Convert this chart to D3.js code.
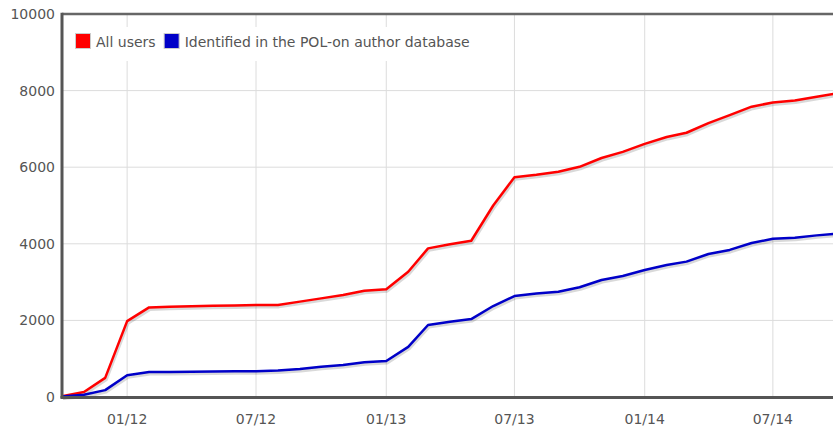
<!DOCTYPE html>
<html>
<head>
<meta charset="utf-8">
<script src="https://cdn.jsdelivr.net/npm/d3@7"></script>
<style>
  body { margin: 0; background: #fff; }
  svg { display: block; font-family: "DejaVu Sans", Tahoma, sans-serif; }
</style>
</head>
<body>
<div id="chart"></div>
<script>
// monthly snapshots, Oct 2011 .. Oct 2014
const months = [
  '2011-10', '2011-11', '2011-12',
  '2012-01', '2012-02', '2012-03', '2012-04', '2012-05', '2012-06',
  '2012-07', '2012-08', '2012-09', '2012-10', '2012-11', '2012-12',
  '2013-01', '2013-02', '2013-03', '2013-04', '2013-05', '2013-06',
  '2013-07', '2013-08', '2013-09', '2013-10', '2013-11', '2013-12',
  '2014-01', '2014-02', '2014-03', '2014-04', '2014-05', '2014-06',
  '2014-07', '2014-08', '2014-09', '2014-10'
];
const allUsers = [
  20, 130, 500,
  1980, 2340, 2355, 2370, 2380, 2390,
  2400, 2405, 2490, 2575, 2665, 2775,
  2815, 3270, 3880, 3990, 4080, 5000,
  5740, 5800, 5880, 6010, 6240, 6400,
  6610, 6790, 6900, 7150, 7360, 7580,
  7690, 7740, 7840, 7930
];
const identified = [
  10, 60, 180,
  570, 650, 655, 660, 665, 670,
  675, 690, 730, 790, 835, 905,
  940, 1310, 1880, 1965, 2035, 2375,
  2635, 2700, 2750, 2865, 3055, 3160,
  3315, 3445, 3535, 3735, 3840, 4020,
  4130, 4160, 4220, 4270
];
const seriesNames = ['All users', 'Identified in the POL-on author database'];
const seriesColors = ['#ff0000', '#0000c8'];
const yTicks = [0, 2000, 4000, 6000, 8000, 10000];
const xTicks = ['2012-01', '2012-07', '2013-01', '2013-07', '2014-01', '2014-07'];

const width = 833, height = 429;
const mLeft = 62, mTop = 14, mBottom = 397, mRight = 838;
const parse = d3.timeParse('%Y-%m');

const x = d3.scaleTime()
  .domain([parse('2011-10'), parse('2014-10')])
  .range([mLeft, mRight]);
const y = d3.scaleLinear()
  .domain([0, 10000])
  .range([mBottom, mTop]);

const svg = d3.select('#chart').append('svg')
  .attr('width', width)
  .attr('height', height);

// grid
svg.append('g')
  .selectAll('line')
  .data(yTicks.slice(1, -1))
  .join('line')
  .attr('x1', mLeft).attr('x2', width)
  .attr('y1', d => y(d)).attr('y2', d => y(d))
  .attr('stroke', '#dcdcdc');
svg.append('g')
  .selectAll('line')
  .data(xTicks)
  .join('line')
  .attr('x1', d => x(parse(d))).attr('x2', d => x(parse(d)))
  .attr('y1', mTop).attr('y2', mBottom)
  .attr('stroke', '#dcdcdc');

// legend box (covers the grid)
const legend = svg.append('g');
legend.append('rect')
  .attr('x', 68).attr('y', 27)
  .attr('width', 412).attr('height', 34)
  .attr('fill', '#fff');
let lx = 75;
seriesNames.forEach((name, i) => {
  legend.append('rect')
    .attr('x', lx + 0.5).attr('y', 33.5)
    .attr('width', 15).attr('height', 15)
    .attr('fill', seriesColors[i])
    .attr('stroke', '#ccc');
  const t = legend.append('text')
    .attr('x', lx + 21).attr('y', 47)
    .attr('font-size', 14)
    .attr('fill', '#555')
    .text(name);
  lx += 21 + t.node().getComputedTextLength() + 8;
});

// lines with a soft drop shadow
const line = d3.line()
  .x((d, i) => x(parse(months[i])))
  .y(d => y(d));
[allUsers, identified].forEach((values, i) => {
  svg.append('path')
    .attr('d', line(values))
    .attr('fill', 'none')
    .attr('stroke', 'rgba(0,0,0,0.15)')
    .attr('stroke-width', 3)
    .attr('stroke-linejoin', 'round')
    .attr('transform', 'translate(1,2)');
  svg.append('path')
    .attr('d', line(values))
    .attr('fill', 'none')
    .attr('stroke', seriesColors[i])
    .attr('stroke-width', 2.5)
    .attr('stroke-linejoin', 'round');
});

// frame
svg.append('line')
  .attr('x1', mLeft).attr('x2', width)
  .attr('y1', mTop).attr('y2', mTop)
  .attr('stroke', '#666').attr('stroke-width', 2.5);
svg.append('line')
  .attr('x1', mLeft).attr('x2', mLeft)
  .attr('y1', mTop - 1.2).attr('y2', mBottom + 1.2)
  .attr('stroke', '#555').attr('stroke-width', 3);
svg.append('line')
  .attr('x1', mLeft - 1.5).attr('x2', width)
  .attr('y1', mBottom + 0.5).attr('y2', mBottom + 0.5)
  .attr('stroke', '#555').attr('stroke-width', 3);

// y labels
svg.append('g')
  .selectAll('text')
  .data(yTicks)
  .join('text')
  .attr('x', 55)
  .attr('y', d => y(d) + 5)
  .attr('text-anchor', 'end')
  .attr('font-size', 14)
  .attr('fill', '#555')
  .text(d => d);

// x labels
svg.append('g')
  .selectAll('text')
  .data(xTicks)
  .join('text')
  .attr('x', d => x(parse(d)))
  .attr('y', 424)
  .attr('text-anchor', 'middle')
  .attr('font-size', 14)
  .attr('fill', '#555')
  .text(d => d3.timeFormat('%m/%y')(parse(d)));
</script>
</body>
</html>
